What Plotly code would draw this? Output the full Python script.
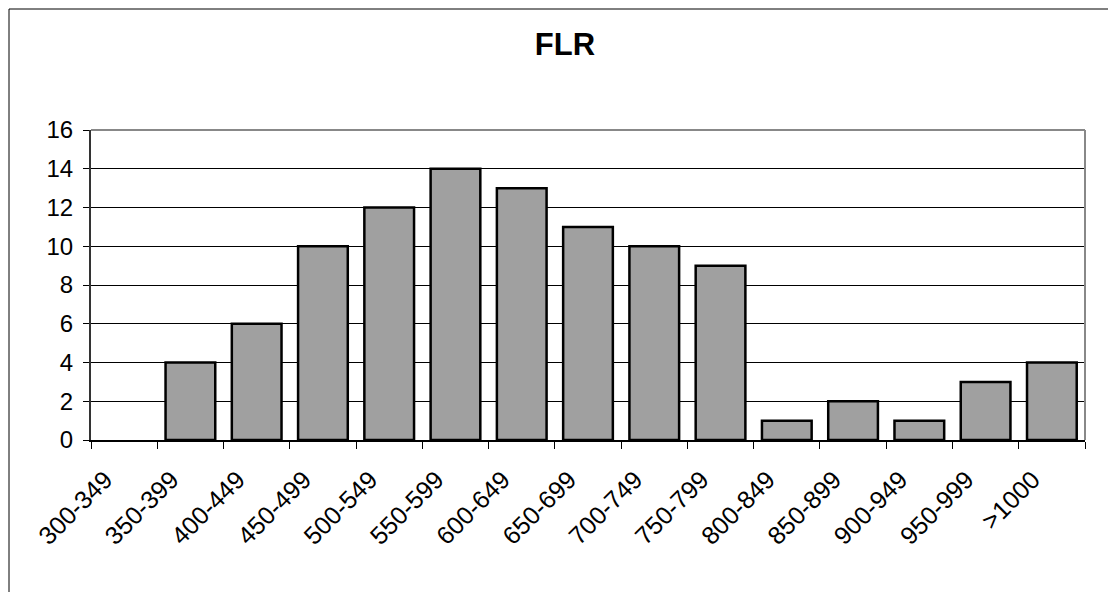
import plotly.graph_objects as go

categories = ["300-349", "350-399", "400-449", "450-499", "500-549", "550-599",
              "600-649", "650-699", "700-749", "750-799", "800-849", "850-899",
              "900-949", "950-999", ">1000"]
counts = [0, 4, 6, 10, 12, 14, 13, 11, 10, 9, 1, 2, 1, 3, 4]
y_ticks = [0, 2, 4, 6, 8, 10, 12, 14, 16]

W, H = 1108, 592
L, R, T, B = 91, 23, 130, 152
pw, ph = W - L - R, H - T - B

def px(x):
    return (x - L) / pw

def py(y):
    return (H - B - y) / ph

fig = go.Figure()
fig.add_trace(go.Bar(
    x=categories, y=counts,
    marker=dict(color="#A0A0A0",
                line=dict(color="black", width=[0 if c == 0 else 2.5 for c in counts])),
))

font = dict(family="Liberation Sans, Arial, sans-serif", size=24, color="black")
xfont = dict(family="Liberation Sans, Arial, sans-serif", size=25, color="black")

fig.update_layout(
    width=W, height=H,
    margin=dict(l=L, r=R, t=T, b=B),
    paper_bgcolor="white", plot_bgcolor="white",
    bargap=0.25,
    showlegend=False,
    font=font,
    title=dict(text="<b>FLR</b>", xref="container", x=565 / W, xanchor="center",
               y=1 - 44 / H, yanchor="middle",
               font=dict(family="Liberation Sans, Arial, sans-serif", size=31, color="black")),
    xaxis=dict(
        type="category", tickangle=-45, tickson="boundaries",
        ticks="outside", ticklen=7, tickcolor="black", tickwidth=1,
        showline=True, linecolor="black", linewidth=2,
        showgrid=False, tickfont=xfont,
        ticklabelstandoff=13, ticklabelshift=-19,
    ),
    yaxis=dict(
        range=[0, 16], tickvals=y_ticks, ticks="outside", ticklen=6,
        tickcolor="black", tickwidth=1,
        showline=True, linecolor="#333333", linewidth=2,
        showgrid=True, gridcolor="black", gridwidth=1,
        zeroline=False, tickfont=font, ticklabelstandoff=5,
    ),
    shapes=[
        dict(type="line", xref="paper", yref="paper", x0=0, x1=1, y0=1, y1=1,
             line=dict(color="#888888", width=2)),
        dict(type="line", xref="paper", yref="paper", x0=1, x1=1, y0=0, y1=1,
             line=dict(color="#888888", width=2)),
        dict(type="line", xref="paper", yref="paper", x0=px(9), x1=px(W + 5), y0=py(9), y1=py(9),
             line=dict(color="black", width=1)),
        dict(type="line", xref="paper", yref="paper", x0=px(9), x1=px(9), y0=py(9), y1=py(H + 5),
             line=dict(color="black", width=1)),
    ],
)

fig.write_html("out.html")
